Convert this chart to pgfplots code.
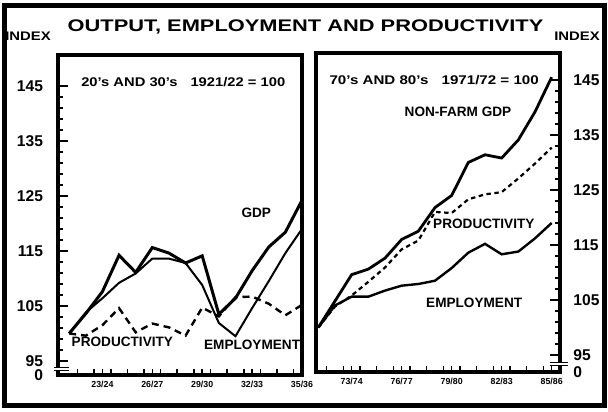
\documentclass[border=0pt]{standalone}
\usepackage{fontspec}
\setmainfont{Liberation Sans}
\usepackage{pgfplots}
\pgfplotsset{compat=1.18}
\usepackage{pgfplotstable}

\pgfplotstableread{
i gdp emp prod
0 100 100 100
1 103.6 103.8 99.6
2 107.6 106.4 101.5
3 114.2 109.2 104.6
4 111.1 110.9 100.2
5 115.6 113.6 101.8
6 114.6 113.6 101.1
7 112.8 112.8 99.6
8 114.1 108.8 104.7
9 103.5 101.9 103.1
10 106.4 99.5 106.6
11 111.4 104.6 106.7
12 115.7 109.5 105.4
13 118.4 114.6 103.3
14 124.2 119.0 105.2
}\leftdata

\pgfplotstableread{
i gdp emp prod
0 100 100 100
1 104.8 104.0 103.8
2 109.6 105.6 105.8
3 110.6 105.6 108.3
4 112.6 106.7 110.9
5 116.0 107.6 114.2
6 117.5 107.9 115.8
7 121.8 108.5 121.0
8 124.0 110.8 120.8
9 130.0 113.6 123.3
10 131.4 115.2 124.2
11 130.8 113.3 124.6
12 134.1 113.8 127.1
13 139.2 116.2 129.8
14 145.5 119.0 132.7
}\rightdata

\tikzset{
  lab/.style={font=\fontsize{6.8}{8}\selectfont\bfseries},
  hdr/.style={font=\fontsize{6.3}{7}\selectfont\bfseries},
}
\pgfplotsset{
  panel/.style={
    scale only axis, width=122pt, height=160pt,
    anchor=south west,
    axis line style={line width=1.8pt},
    tick style={line width=0.8pt, black},
    tick align=inside,
    xtick pos=left,
    xtick={0.5,1.5,...,13.5}, xticklabels={},
    ytick={95,105,...,145},
    minor ytick={97,99,...,143},
    major tick length=5pt, minor tick length=2.5pt,
    xtick style={/pgfplots/major tick length=3pt},
    yticklabel style={font=\fontsize{7.8}{9}\selectfont\bfseries},
    xticklabel style={font=\fontsize{4.4}{5}\selectfont\bfseries, yshift=0.5pt},
    /pgf/number format/assume math mode=true,
    extra x tick style={major tick length=0pt},
    extra y tick style={major tick length=0pt},
    clip=false,
  },
}

\begin{document}
\begin{tikzpicture}
\useasboundingbox (0,0) rectangle (304pt,205.5pt);
\draw[line width=2.5pt] (2pt,3pt) rectangle (302.2pt,202.5pt);
\node[font=\fontsize{8.4}{10}\selectfont\bfseries, anchor=base] at (152.75pt,189.5pt) {\scalebox{1.3}[1]{OUTPUT, EMPLOYMENT AND PRODUCTIVITY}};
\node[font=\fontsize{6.2}{7}\selectfont\bfseries, anchor=base] at (14pt,185pt) {\scalebox{1.2}[1]{INDEX}};
\node[font=\fontsize{6.2}{7}\selectfont\bfseries, anchor=base] at (288.5pt,185pt) {\scalebox{1.2}[1]{INDEX}};

% left panel
\begin{axis}[panel, at={(29pt,18pt)},
  xmin=-0.67, xmax=14, ymin=92.45, ymax=150.6,
  ytick pos=left,
  yticklabel style={xshift=-4pt},
  extra y ticks={92.45}, extra y tick labels={0},
  extra x ticks={2,5,8,11,14},
  extra x tick labels={23/24,26/27,29/30,32/33,35/36},
]
\addplot[line width=1.5pt] table[x=i,y=gdp]{\leftdata};
\addplot[line width=1pt] table[x=i,y=emp]{\leftdata};
\addplot[line width=1.2pt, dash pattern=on 3.5pt off 2.5pt] table[x=i,y=prod]{\leftdata};
\node[hdr] at (axis cs:6.86,145.6) {\scalebox{1.17}[1]{20's AND 30's\hspace{5.5pt}1921/22 = 100}};
\node[lab] at (axis cs:11.25,121.85) {GDP};
\node[lab] at (axis cs:3.2,98.5) {PRODUCTIVITY};
\node[lab] at (axis cs:11.0,97.9) {EMPLOYMENT};
\fill[white] (axis cs:-0.9,93.35) rectangle (axis cs:-0.4,93.67);
\draw[line width=0.8pt] (axis cs:-0.9,93.78) -- (axis cs:0,93.78) (axis cs:-0.9,93.24) -- (axis cs:0,93.24);
\end{axis}

% right panel
\begin{axis}[panel, at={(158pt,19.5pt)}, height=159.5pt,
  xmin=-0.14, xmax=14.5, ymin=91.9, ymax=149.9,
  ytick pos=right, yticklabel pos=right,
  yticklabel style={xshift=3.2pt},
  extra y ticks={91.9}, extra y tick labels={0},
  extra x ticks={2,5,8,11,14},
  extra x tick labels={73/74,76/77,79/80,82/83,85/86},
]
\addplot[line width=1.4pt] table[x=i,y=gdp]{\rightdata};
\addplot[line width=1.2pt] table[x=i,y=emp]{\rightdata};
\addplot[line width=1.1pt, dash pattern=on 2.2pt off 1.8pt] table[x=i,y=prod]{\rightdata};
\node[hdr] at (axis cs:6.95,145) {\scalebox{1.2}[1]{70's AND 80's\hspace{5.5pt}1971/72 = 100}};
\node[lab] at (axis cs:8.38,139.2) {NON-FARM GDP};
\node[lab, fill=white, inner sep=0.5pt] at (axis cs:9.93,118.9) {PRODUCTIVITY};
\node[lab] at (axis cs:9.35,104.4) {EMPLOYMENT};
\fill[white] (axis cs:13.9,93.15) rectangle (axis cs:14.95,93.5);
\draw[line width=0.8pt] (axis cs:13.87,93.6) -- (axis cs:14.97,93.6) (axis cs:13.87,93.05) -- (axis cs:14.97,93.05);
\end{axis}
\end{tikzpicture}
\end{document}
